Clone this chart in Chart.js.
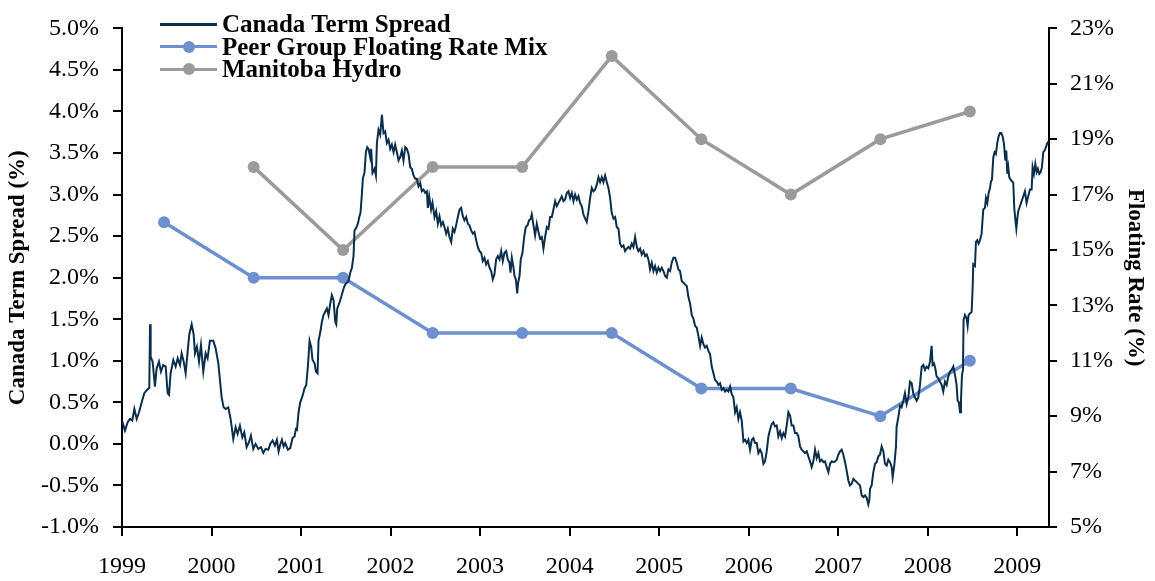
<!DOCTYPE html>
<html>
<head>
<meta charset="utf-8">
<script src="https://cdn.jsdelivr.net/npm/chart.js@4"></script>
<style>
  body { margin: 0; background: #fff; }
  #wrap { position: relative; width: 1155px; height: 581px; }
  #legend { position: absolute; left: 0; top: 0; }
  .lg-line { position: absolute; }
  .lg-dot { position: absolute; border-radius: 50%; }
  .lg-text { position: absolute; white-space: nowrap; font: bold 25px 'Liberation Serif', 'Times New Roman', serif; line-height: 24px; color: #000; }
</style>
</head>
<body>
<div id="wrap">
  <canvas id="chart" width="1155" height="581"></canvas>
  <div id="legend"></div>
</div>
<script>
// Canada term spread (%), dates as decimal years
const SPREAD_DATES = [
  1999.000,1999.033,1999.063,1999.089,1999.115,1999.138,1999.164,1999.190,1999.220,1999.249,
  1999.287,1999.305,1999.313,1999.320,1999.342,1999.368,1999.387,1999.413,1999.435,1999.461,
  1999.488,1999.510,1999.525,1999.543,1999.573,1999.599,1999.622,1999.648,1999.666,1999.689,
  1999.711,1999.733,1999.752,1999.778,1999.800,1999.815,1999.837,1999.860,1999.882,1999.908,
  1999.934,1999.956,1999.982,2000.020,2000.046,2000.076,2000.094,2000.113,2000.135,2000.157,
  2000.187,2000.213,2000.243,2000.269,2000.291,2000.317,2000.344,2000.366,2000.392,2000.418,
  2000.440,2000.466,2000.492,2000.522,2000.552,2000.578,2000.604,2000.634,2000.656,2000.682,
  2000.708,
  2000.730,2000.749,2000.767,2000.786,2000.805,2000.823,2000.853,2000.879,2000.905,2000.927,
  2000.942,2000.954,2000.972,2000.991,2001.017,2001.039,2001.058,2001.076,2001.095,2001.114,
  2001.128,2001.151,2001.166,2001.184,2001.195,2001.214,2001.233,2001.251,2001.270,2001.288,
  2001.307,2001.326,2001.344,2001.363,2001.382,2001.393,2001.404,2001.426,2001.449,2001.475,
  2001.493,2001.512,2001.530,2001.549,2001.568,2001.586,2001.597,2001.612,2001.635,2001.650,
  2001.664,2001.679,2001.690,2001.709,2001.724,2001.739,2001.754,2001.772,2001.783,2001.798,
  2001.821,2001.836,2001.847,2001.865,2001.884,2001.903,2001.921,2001.940,2001.958,2001.977,
  2001.996,2002.014,2002.033,2002.051,2002.070,2002.089,2002.107,2002.126,2002.144,2002.163,
  2002.182,2002.200,2002.219,2002.237,2002.256,2002.275,2002.293,2002.312,2002.331,2002.349,
  2002.368,
  2002.386,2002.405,2002.416,2002.431,2002.453,2002.468,2002.491,2002.509,2002.528,2002.546,
  2002.565,2002.584,2002.602,2002.621,2002.639,2002.658,2002.677,2002.695,2002.714,2002.732,
  2002.751,2002.770,2002.788,2002.807,2002.825,2002.844,2002.863,2002.881,2002.900,2002.919,
  2002.937,2002.956,2002.974,2002.993,2003.012,2003.030,2003.049,2003.067,2003.086,2003.105,
  2003.123,2003.142,2003.160,2003.179,2003.198,2003.216,2003.235,2003.253,2003.272,2003.291,
  2003.309,2003.328,2003.339,2003.354,2003.373,2003.384,2003.399,2003.414,2003.425,2003.440,
  2003.454,2003.473,2003.492,2003.510,2003.529,2003.547,2003.566,2003.577,2003.596,2003.614,
  2003.633,2003.652,2003.670,2003.689,2003.707,2003.726,2003.745,2003.763,2003.782,2003.801,
  2003.819,2003.838,2003.856,2003.875,2003.894,2003.912,2003.931,2003.949,2003.968,2003.987,
  2004.005,2004.024,2004.043,
  2004.061,2004.080,2004.098,2004.117,2004.136,2004.154,2004.173,2004.191,2004.210,2004.229,
  2004.247,2004.266,2004.284,2004.303,2004.322,2004.340,2004.359,2004.377,2004.396,2004.415,
  2004.433,2004.452,2004.470,2004.489,2004.508,2004.526,2004.545,2004.563,2004.582,2004.601,
  2004.619,2004.638,2004.657,2004.675,2004.694,2004.712,2004.731,2004.750,2004.768,2004.787,
  2004.805,2004.824,2004.843,2004.861,2004.880,2004.898,2004.917,2004.936,2004.954,2004.973,
  2004.991,2005.010,2005.029,2005.047,2005.066,2005.085,2005.103,2005.122,2005.140,2005.159,
  2005.178,2005.196,2005.215,2005.233,2005.252,2005.271,2005.289,2005.308,2005.326,2005.345,
  2005.364,2005.382,2005.401,2005.419,2005.438,2005.457,2005.475,2005.494,2005.512,2005.531,
  2005.550,2005.568,2005.587,2005.606,2005.624,2005.643,2005.661,2005.680,2005.699,2005.717,
  2005.736,2005.754,2005.773,2005.792,2005.810,2005.829,
  2005.848,2005.866,2005.885,2005.903,2005.922,2005.941,2005.959,2005.978,2005.996,2006.015,
  2006.034,2006.052,2006.071,2006.089,2006.108,2006.127,2006.145,2006.164,2006.182,2006.201,
  2006.220,2006.238,2006.257,2006.275,2006.294,2006.313,2006.331,2006.350,2006.369,2006.387,
  2006.406,2006.424,2006.443,2006.462,2006.480,2006.499,2006.517,2006.536,2006.555,2006.573,
  2006.592,2006.610,2006.629,2006.648,2006.666,2006.685,2006.703,2006.722,2006.741,2006.759,
  2006.778,2006.796,2006.815,2006.834,2006.852,2006.871,2006.890,2006.908,2006.927,2006.945,
  2006.964,2006.983,2007.001,2007.020,2007.038,2007.057,2007.076,2007.094,2007.113,2007.131,
  2007.150,2007.169,2007.187,2007.206,2007.224,2007.243,2007.262,2007.280,2007.299,2007.318,
  2007.336,2007.347,2007.355,2007.373,2007.392,2007.411,2007.429,2007.448,2007.466,2007.485,
  2007.504,2007.522,2007.541,2007.559,2007.578,2007.597,2007.608,2007.626,2007.645,
  2007.652,2007.671,2007.690,2007.708,2007.727,2007.745,2007.764,2007.783,2007.801,2007.820,
  2007.839,2007.857,2007.876,2007.894,2007.913,2007.932,2007.950,2007.969,2007.987,2008.006,
  2008.025,2008.043,2008.054,2008.069,2008.084,2008.099,2008.118,2008.136,2008.155,2008.173,
  2008.192,2008.211,2008.229,2008.248,2008.266,2008.285,2008.304,2008.322,2008.333,2008.348,
  2008.360,2008.371,2008.382,2008.393,2008.400,2008.415,2008.434,2008.445,2008.456,2008.471,
  2008.490,2008.501,2008.508,2008.527,2008.538,2008.553,2008.568,2008.583,2008.601,2008.620,
  2008.639,2008.650,2008.665,2008.680,2008.695,2008.706,2008.717,2008.732,2008.747,2008.761,
  2008.776,2008.791,2008.806,2008.821,2008.836,2008.851,2008.866,2008.877,2008.888,2008.899,
  2008.910,2008.925,2008.940,2008.955,2008.966,2008.977,2008.989,2009.000,2009.011,2009.029,
  2009.048,2009.067,2009.085,2009.104,2009.122,2009.141,2009.160,2009.171,2009.186,2009.201,
  2009.216,2009.230,2009.245,2009.260,2009.275,2009.290,2009.305,2009.320,2009.335,2009.350
];
const SPREAD_VALUES = [
  0.28,0.16,0.26,0.30,0.28,0.42,0.30,0.38,0.50,0.61,
  0.66,0.67,1.44,1.05,0.99,0.69,0.91,0.99,0.87,0.95,
  0.93,0.61,0.59,0.85,1.01,0.93,1.03,0.95,1.09,0.99,
  0.85,1.11,1.32,1.44,1.32,1.09,1.17,0.99,1.19,0.87,
  1.09,1.03,1.24,1.24,1.15,0.97,0.77,0.56,0.44,0.42,
  0.44,0.30,0.06,0.20,0.12,0.22,0.08,0.14,-0.04,0.02,
  0.10,-0.06,0.00,-0.06,-0.04,-0.11,-0.06,-0.07,0.00,0.04,
  -0.02,
  0.05,-0.09,-0.01,0.05,-0.03,0.01,-0.07,-0.05,0.07,0.09,
  0.18,0.17,0.38,0.50,0.58,0.67,0.71,0.93,1.24,1.16,
  1.01,0.97,0.87,0.85,1.24,1.34,1.47,1.55,1.59,1.63,
  1.55,1.69,1.79,1.73,1.47,1.44,1.63,1.69,1.77,1.87,
  1.92,1.94,1.96,2.06,2.12,2.26,2.57,2.59,2.65,2.73,
  2.78,3.00,3.19,3.27,3.51,3.57,3.55,3.45,3.55,3.26,
  3.31,3.23,3.62,3.78,3.72,3.96,3.74,3.76,3.62,3.66,
  3.55,3.60,3.51,3.60,3.51,3.41,3.45,3.53,3.41,3.57,
  3.55,3.49,3.33,3.31,3.23,3.19,3.19,3.10,3.14,3.04,
  3.06,
  3.02,3.04,2.84,2.98,2.82,2.90,2.73,2.80,2.65,2.74,
  2.63,2.67,2.61,2.53,2.59,2.49,2.43,2.59,2.55,2.63,
  2.73,2.82,2.84,2.74,2.69,2.73,2.65,2.63,2.57,2.53,
  2.55,2.45,2.37,2.32,2.30,2.20,2.24,2.16,2.20,2.12,
  2.08,1.98,2.04,2.22,2.26,2.22,2.32,2.20,2.30,2.32,
  2.22,2.18,2.06,2.24,2.12,2.02,1.98,1.81,1.94,2.02,
  2.22,2.30,2.49,2.61,2.63,2.69,2.71,2.76,2.63,2.51,
  2.65,2.55,2.47,2.49,2.35,2.49,2.61,2.59,2.73,2.73,
  2.82,2.92,2.86,2.90,2.94,2.98,2.92,2.94,3.02,3.04,
  2.96,3.02,2.92,
  3.00,2.94,2.98,2.90,2.86,2.76,2.71,2.67,2.80,2.96,
  3.08,3.04,3.06,3.12,3.21,3.15,3.21,3.15,3.23,3.15,
  3.08,2.96,2.78,2.71,2.73,2.61,2.59,2.41,2.37,2.39,
  2.32,2.35,2.37,2.35,2.41,2.37,2.49,2.37,2.32,2.35,
  2.28,2.32,2.26,2.28,2.22,2.10,2.18,2.08,2.14,2.06,
  2.12,2.08,2.12,2.08,2.02,2.00,2.10,2.08,2.18,2.24,
  2.24,2.18,2.10,2.08,1.96,1.94,1.92,1.90,1.77,1.69,
  1.55,1.51,1.42,1.40,1.30,1.18,1.28,1.20,1.16,1.18,
  1.12,1.08,0.93,0.85,0.77,0.75,0.71,0.73,0.65,0.67,
  0.63,0.65,0.63,0.69,0.60,0.56,
  0.38,0.44,0.30,0.38,0.28,0.03,0.05,0.01,0.05,-0.07,
  0.05,0.07,0.01,0.01,-0.11,-0.07,-0.11,-0.24,-0.21,-0.09,
  0.09,0.17,0.24,0.26,0.21,0.22,0.09,0.15,0.07,0.13,
  0.09,0.22,0.38,0.34,0.22,0.22,0.13,0.13,0.09,-0.03,
  -0.07,-0.09,-0.11,-0.09,-0.15,-0.21,-0.28,-0.21,-0.07,-0.17,
  -0.11,-0.21,-0.19,-0.22,-0.21,-0.28,-0.34,-0.24,-0.21,-0.22,
  -0.21,-0.19,-0.13,-0.09,-0.07,-0.13,-0.22,-0.32,-0.44,-0.50,
  -0.48,-0.42,-0.44,-0.46,-0.48,-0.50,-0.62,-0.64,-0.62,-0.65,
  -0.73,-0.68,-0.54,-0.50,-0.34,-0.24,-0.22,-0.15,-0.13,-0.03,
  -0.09,-0.24,-0.26,-0.19,-0.22,-0.28,-0.40,-0.26,-0.03,
  0.21,0.32,0.46,0.44,0.52,0.61,0.48,0.56,0.75,0.73,
  0.60,0.56,0.52,0.56,0.71,0.93,0.95,0.89,0.93,0.91,
  0.99,1.18,0.95,0.97,0.91,0.81,0.79,0.75,0.71,0.63,
  0.75,0.71,0.81,0.87,0.89,0.93,0.83,0.71,0.52,0.50,
  0.38,0.52,0.83,0.89,1.49,1.55,1.51,1.42,1.55,1.57,
  1.59,1.87,2.16,2.14,2.43,2.45,2.41,2.45,2.53,2.82,
  2.84,2.96,2.90,3.02,3.08,3.16,3.18,3.45,3.51,3.49,
  3.62,3.70,3.74,3.74,3.70,3.61,3.41,3.53,3.25,3.33,
  3.21,3.18,3.16,3.14,2.84,2.71,2.59,2.71,2.80,2.86,
  2.92,2.98,3.04,2.90,2.98,3.06,3.06,3.33,3.25,3.37,
  3.27,3.31,3.25,3.27,3.33,3.51,3.53,3.57,3.62,3.64
];

// yearly survey points (mid-year), floating rate share in %
const PEER_DATES = [1999.47, 2000.47, 2001.47, 2002.47, 2003.47, 2004.47, 2005.47, 2006.47, 2007.47, 2008.47];
const PEER_MIX   = [16, 14, 14, 12, 12, 12, 10, 10, 9, 11];
const HYDRO_DATES = [2000.47, 2001.47, 2002.47, 2003.47, 2004.47, 2005.47, 2006.47, 2007.47, 2008.47];
const HYDRO_MIX   = [18, 15, 18, 18, 22, 19, 17, 19, 20];

const SERIES_NAMES  = ['Canada Term Spread', 'Peer Group Floating Rate Mix', 'Manitoba Hydro'];
const SERIES_COLORS = ['#0a2e4c', '#6e90ce', '#9b9b9b'];

const X_MIN = 1999, X_MAX = 2009.354;
const FONT = "'Liberation Serif', 'Times New Roman', serif";

const toPoints = (xs, ys) => xs.map((x, i) => ({ x, y: ys[i] }));

function buildLegend() {
  const box = document.getElementById('legend');
  SERIES_NAMES.forEach((name, i) => {
    const cy = 24 + i * 22.7;
    const lw = i === 0 ? 3 : 3.5;
    const line = document.createElement('div');
    line.className = 'lg-line';
    Object.assign(line.style, { left: '160px', width: '57px', top: (cy - lw / 2) + 'px', height: lw + 'px', background: SERIES_COLORS[i] });
    box.appendChild(line);
    if (i > 0) {
      const dot = document.createElement('div');
      dot.className = 'lg-dot';
      Object.assign(dot.style, { left: '182.5px', top: (cy - 6) + 'px', width: '12px', height: '12px', background: SERIES_COLORS[i] });
      box.appendChild(dot);
    }
    const txt = document.createElement('div');
    txt.className = 'lg-text';
    txt.textContent = name;
    Object.assign(txt.style, { left: '222px', top: (cy - 12) + 'px' });
    box.appendChild(txt);
  });
}

const axisGrid = (len) => ({ drawOnChartArea: false, drawTicks: true, tickLength: len, color: '#000', lineWidth: 2 });
const axisBorder = { display: true, color: '#000', width: 2 };

Chart.defaults.font.family = FONT;
Chart.defaults.color = '#000';

new Chart(document.getElementById('chart'), {
  type: 'line',
  data: {
    datasets: [
      {
        label: SERIES_NAMES[0], data: toPoints(SPREAD_DATES, SPREAD_VALUES), yAxisID: 'y',
        borderColor: SERIES_COLORS[0], borderWidth: 2, pointRadius: 0, tension: 0, order: 0
      },
      {
        label: SERIES_NAMES[1], data: toPoints(PEER_DATES, PEER_MIX), yAxisID: 'y1',
        borderColor: SERIES_COLORS[1], backgroundColor: SERIES_COLORS[1], borderWidth: 3.5,
        pointRadius: 6, pointHoverRadius: 6, pointBorderWidth: 0, order: 1
      },
      {
        label: SERIES_NAMES[2], data: toPoints(HYDRO_DATES, HYDRO_MIX), yAxisID: 'y1',
        borderColor: SERIES_COLORS[2], backgroundColor: SERIES_COLORS[2], borderWidth: 3.5,
        pointRadius: 6, pointHoverRadius: 6, pointBorderWidth: 0, order: 2
      }
    ]
  },
  options: {
    responsive: false,
    animation: false,
    layout: { padding: { top: 16, left: 0, right: 0, bottom: 0 } },
    plugins: { legend: { display: false }, tooltip: { enabled: false } },
    scales: {
      x: {
        type: 'linear', min: X_MIN, max: X_MAX,
        afterFit: s => { s.height = 54; },
        border: axisBorder,
        grid: axisGrid(9),
        ticks: {
          stepSize: 1, includeBounds: false, autoSkip: false, maxRotation: 0, padding: 16,
          font: { size: 24 }, color: '#000', callback: v => String(v)
        }
      },
      y: {
        position: 'left', min: -1, max: 5,
        afterFit: s => { s.width = 122; },
        border: axisBorder,
        grid: axisGrid(9),
        ticks: { stepSize: 0.5, padding: 14, font: { size: 24 }, color: '#000', callback: v => v.toFixed(1) + '%' },
        title: { display: true, text: 'Canada Term Spread (%)', color: '#000', font: { size: 23, weight: 'bold' }, padding: { top: 4, bottom: 0 } }
      },
      y1: {
        position: 'right', min: 5, max: 23,
        afterFit: s => { s.width = 106; },
        border: axisBorder,
        grid: axisGrid(8),
        ticks: { stepSize: 2, padding: 13, font: { size: 24 }, color: '#000', callback: v => v + '%' },
        title: { display: true, text: 'Floating Rate (%)', color: '#000', font: { size: 23, weight: 'bold' }, padding: { top: 6, bottom: 0 } }
      }
    }
  }
});

buildLegend();
</script>
</body>
</html>
